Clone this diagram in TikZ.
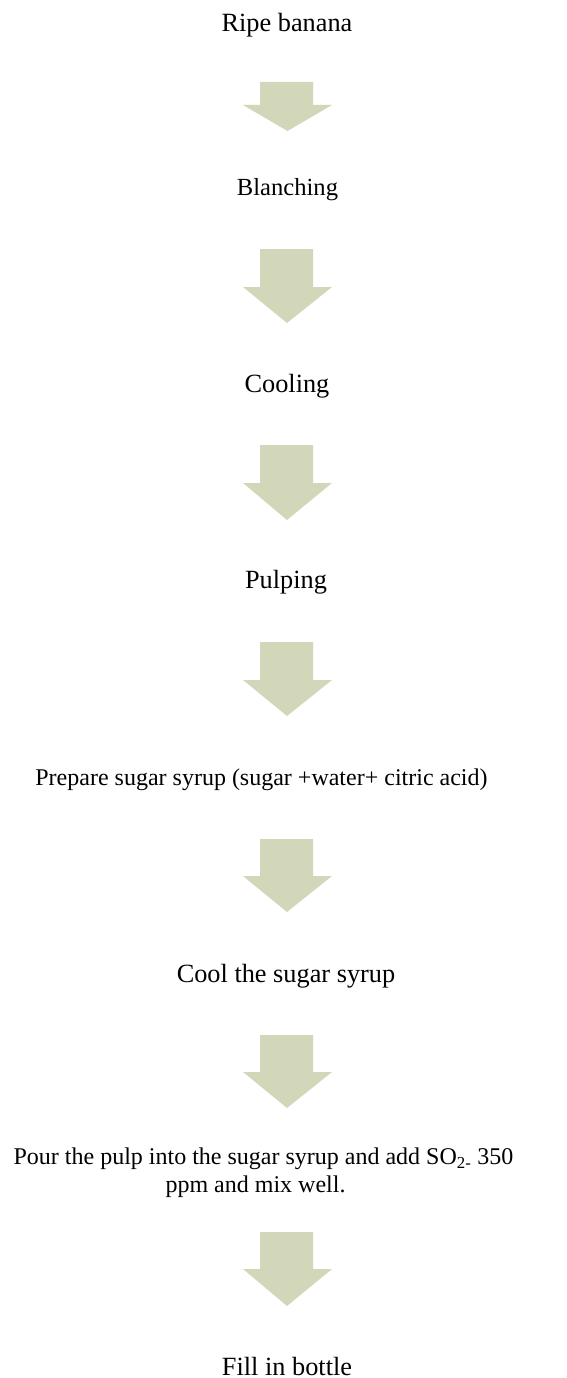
\documentclass[tikz,border=0pt]{standalone}
\usepackage{fontspec}
\setmainfont{Liberation Serif}
\definecolor{arrowfill}{RGB}{211,215,185}
\tikzset{
  steptext/.style={anchor=base, inner sep=0pt, font=\fontsize{24}{27.6}\selectfont},
  bigtext/.style={steptext, font=\fontsize{26.3}{30}\selectfont},
  blockarrow/.style={fill=arrowfill, draw=none}
}
\newcommand{\blkarrow}[4]{% name, top, wing, tip
  \fill[blockarrow] (260,#2) -- (313,#2) -- (313,#3) -- (332,#3) -- (287,#4) -- (243,#3) -- (260,#3) -- cycle;
  \coordinate (#1) at (287,#4);
}
\begin{document}
\begin{tikzpicture}[x=1pt,y=-1pt]
\useasboundingbox (0,0) rectangle (566,1378);
\node[bigtext] (n1) at (287,32) {Ripe banana};
\node[steptext, font=\fontsize{24.6}{28}\selectfont] (n2) at (287.5,195) {Blanching};
\node[bigtext] (n3) at (287,392) {Cooling};
\node[bigtext] (n4) at (286,588) {Pulping};
\node[steptext] (n5) at (261.5,785) {Prepare sugar syrup (sugar +water+ citric acid)};
\node[bigtext] (n6) at (286,982) {Cool the sugar syrup};
\node[steptext, align=center] (n7) at (263.5,1192) {Pour the pulp into the sugar syrup and add SO\textsubscript{2-} 350\\ppm and mix well.\hspace*{16pt}};
\node[bigtext] (n8) at (287,1375) {Fill in bottle};
\fill[blockarrow] (260,82) -- (313,82) -- (313,105) -- (332,105) -- (287.5,131) -- (243,105) -- (260,105) -- cycle;
\blkarrow{a2}{249}{287}{323}
\blkarrow{a3}{445}{483}{520}
\blkarrow{a4}{642}{680}{716}
\blkarrow{a5}{839}{876}{912}
\blkarrow{a6}{1035}{1072}{1108}
\blkarrow{a7}{1232}{1269}{1306}
\end{tikzpicture}
\end{document}
